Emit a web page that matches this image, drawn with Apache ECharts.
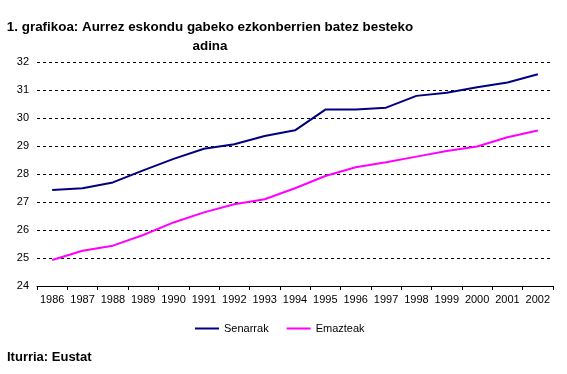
<!DOCTYPE html>
<html><head><meta charset="utf-8">
<script src="https://cdn.jsdelivr.net/npm/echarts@6/dist/echarts.min.js"></script>
<style>html,body{margin:0;padding:0;background:#fff}#c{width:567px;height:374px}</style>
</head><body><div id="c"></div>
<script>
const years = ['1986','1987','1988','1989','1990','1991','1992','1993','1994','1995','1996','1997','1998','1999','2000','2001','2002'];
const senarrak = [27.43,27.49,27.7,28.13,28.54,28.9,29.06,29.36,29.56,30.3,30.3,30.37,30.79,30.9,31.1,31.27,31.56];
const emazteak = [24.93,25.26,25.44,25.82,26.27,26.63,26.92,27.1,27.49,27.93,28.24,28.42,28.62,28.82,28.98,29.31,29.55];
const titleText = '1. grafikoa: Aurrez eskondu gabeko ezkonberrien batez besteko\nadina';
const sourceText = 'Iturria: Eustat';
const font = 'Liberation Sans, Arial, sans-serif';
const chart = echarts.init(document.getElementById('c'), null, {renderer:'canvas'});
chart.setOption({
  animation:false,
  backgroundColor:'#fff',
  grid:{left:37,right:14,top:62,bottom:88,containLabel:false},
  graphic:[
    {type:'text',x:210,y:18,style:{text:titleText,fontFamily:font,fontSize:13.4,fontWeight:'bold',fill:'#000',align:'center',verticalAlign:'top',lineHeight:19},z:10},
    {type:'text',x:7,y:351,style:{text:sourceText,fontFamily:font,fontSize:13,fontWeight:'bold',fill:'#000',verticalAlign:'top'}}
  ],
  legend:{left:195,top:323,padding:0,itemWidth:24,itemHeight:2,itemGap:18,icon:'rect',
    textStyle:{fontFamily:font,fontSize:11,color:'#000'},
    data:['Senarrak','Emazteak']},
  xAxis:{type:'category',data:years,boundaryGap:true,
    axisLine:{lineStyle:{color:'#000',width:1}},
    axisTick:{show:true,length:4,lineStyle:{color:'#000'},alignWithLabel:false},
    axisLabel:{fontFamily:font,fontSize:11,color:'#000',margin:8,interval:0},
    splitLine:{show:false}},
  yAxis:{type:'value',min:24,max:32,interval:1,
    axisLine:{show:false},axisTick:{show:false},
    axisLabel:{fontFamily:font,fontSize:11,color:'#000',margin:8},
    splitLine:{show:true,lineStyle:{color:'#000',width:1,type:[3,3]}}},
  series:[
    {name:'Senarrak',type:'line',data:senarrak,showSymbol:false,symbol:'none',lineStyle:{color:'#000080',width:2},itemStyle:{color:'#000080'}},
    {name:'Emazteak',type:'line',data:emazteak,showSymbol:false,symbol:'none',lineStyle:{color:'#ff00ff',width:2},itemStyle:{color:'#ff00ff'}}
  ]
});
</script></body></html>
